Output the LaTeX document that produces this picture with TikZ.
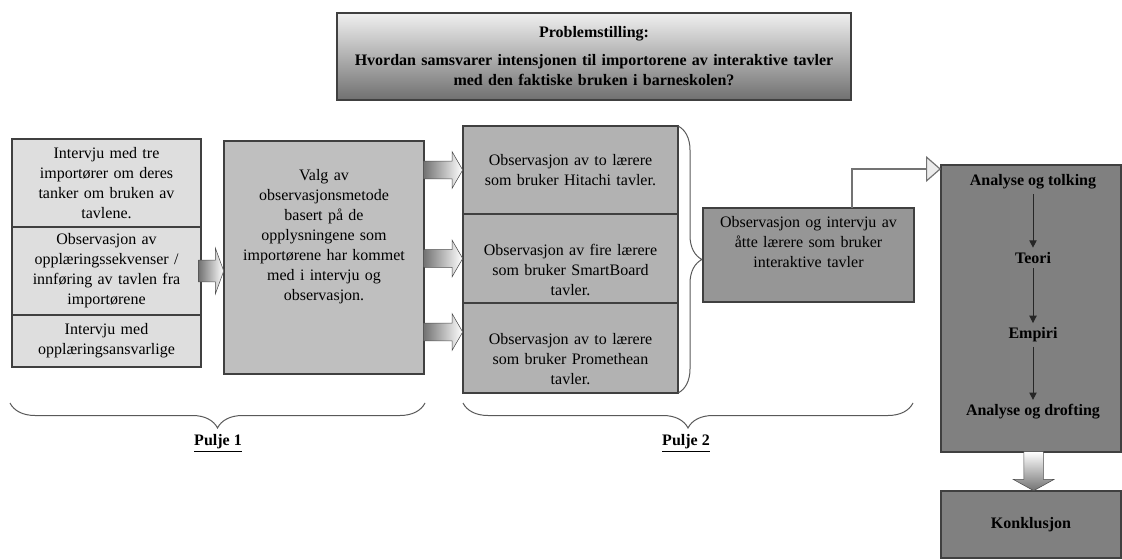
\documentclass[tikz,border=0pt]{standalone}
\usepackage{fontspec}
\setmainfont{Liberation Serif}
\usepackage{tikz}
\usetikzlibrary{shapes, shapes.arrows, arrows.meta, positioning, decorations.pathreplacing}

\newcommand{\bodyfont}{\fontsize{12}{15}\selectfont}

\definecolor{lysgraa}{gray}{0.87}
\definecolor{valggraa}{gray}{0.75}
\definecolor{midtgraa}{gray}{0.70}
\definecolor{samlegraa}{gray}{0.59}
\definecolor{morkgraa}{gray}{0.50}

\begin{document}
\begin{tikzpicture}[x=0.75pt, y=-0.75pt, font=\bodyfont]
    \tikzstyle{box}=[rectangle, draw=black!75, line width=0.8pt, outer sep=0pt, align=center, inner sep=2pt]
    \tikzstyle{leftbox}=[box, fill=lysgraa, minimum width=141.75pt, text width=137pt]
    \tikzstyle{midbox}=[box, fill=midtgraa, minimum width=161.25pt, text width=157pt]
    \tikzstyle{bigarrow}=[single arrow, draw=black!70, left color=black!55, right color=white, inner xsep=0pt, inner ysep=7.9pt, single arrow head extend=9pt, single arrow tip angle=140, minimum height=18.75pt]
    \tikzstyle{smallarrow}=[single arrow, draw=black!70, left color=black!55, right color=white, inner xsep=0pt, inner ysep=6.4pt, single arrow head extend=7.1pt, single arrow tip angle=120, minimum height=29.25pt]
    \tikzstyle{downarrow}=[single arrow, rotate=-90, draw=black!70, bottom color=black!55, top color=white, inner xsep=0pt, inner ysep=7.1pt, single arrow head extend=7.9pt, single arrow tip angle=122, minimum height=29.25pt]
    \tikzstyle{stage}=[font=\bodyfont\bfseries]
    \tikzstyle{flow}=[draw=black!85, line width=0.75pt, -{Triangle[length=5.5pt,width=5.5pt]}]
    \tikzstyle{link}=[draw=black!55, line width=0.9pt, -{Triangle[length=11.25pt,width=19.5pt,fill=black!8]}]
    \tikzstyle{curly}=[draw=black!65, line width=0.75pt, decorate]

    \useasboundingbox (0,0) rectangle (1122,560);

    % problemstilling
    \node [box, line width=1.1pt, top color=black!6, bottom color=black!56, minimum width=385.5pt, minimum height=65.25pt, text width=383pt, inner xsep=1pt, font=\bodyfont\bfseries] (problem) at (594,56.5)
      {Problemstilling:\\[6pt]
       Hvordan samsvarer intensjonen til importorene av interaktive tavler\\
       med den faktiske bruken i barneskolen?};

    % pulje 1
    \node [leftbox, minimum height=66pt] (intervju) at (106.5,183)
      {Intervju med tre\\importører om deres\\tanker om bruken av\\tavlene.};
    \node [leftbox, minimum height=66pt, below=0pt of intervju] (opplaering)
      {Observasjon av\\opplæringssekvenser /\\innføring av tavlen fra\\importørene};
    \node [leftbox, minimum height=39pt, below=0pt of opplaering] (ansvarlige)
      {Intervju med\\opplæringsansvarlige};
    \node [box, fill=valggraa, minimum width=150pt, minimum height=174.75pt, text width=146pt] (valg) at (324,257.5)
      {Valg av\\observasjonsmetode\\basert på de\\opplysningene som\\importørene har kommet\\med i intervju og\\observasjon.\\\strut\\\strut};
    \node [bigarrow, anchor=tip] (pil0) at (valg.west |- opplaering.east) {};

    % pulje 2
    \node [midbox, minimum height=66pt] (hitachi) at (570.5,170)
      {Observasjon av to lærere\\som bruker Hitachi tavler.};
    \node [midbox, minimum height=66.75pt, below=0pt of hitachi] (smartboard)
      {\strut\\Observasjon av fire lærere\\som bruker SmartBoard\\tavler.};
    \node [midbox, minimum height=67.5pt, below=0pt of smartboard] (promethean)
      {\strut\\Observasjon av to lærere\\som bruker Promethean\\tavler.};
    \node [smallarrow, anchor=tip] (pil1) at (hitachi.west) {};
    \node [smallarrow, anchor=tip] (pil2) at (smartboard.west) {};
    \node [smallarrow, anchor=tip] (pil3) at ([yshift=12pt]promethean.west) {};
    \draw [curly, decoration={brace, amplitude=18pt}] (hitachi.north east) -- (promethean.south east);

    \node [box, fill=samlegraa, minimum width=158.25pt, minimum height=70.5pt, text width=154pt] (samlet) at (808.5,255)
      {Observasjon og intervju av\\åtte lærere som bruker\\interaktive tavler\\\strut};

    % analyse
    \node [box, fill=morkgraa, minimum width=135pt, minimum height=215.25pt] (analyse) at (1031,308.5) {};
    \node [stage] (tolking) at (1033,182) {Analyse og tolking};
    \node [stage] (teori) at (1033,258) {Teori};
    \node [stage] (empiri) at (1033,335) {Empiri};
    \node [stage] (drofting) at (1033,412) {Analyse og drofting};
    \draw [flow] (tolking) -- (teori);
    \draw [flow] (teori) -- (empiri);
    \draw [flow] (empiri) -- (drofting);

    \coordinate (knekk) at (852,169);
    \draw [link] (samlet.north -| knekk) |- (analyse.west |- knekk);

    \node [box, fill=morkgraa, minimum width=135pt, minimum height=50.25pt, font=\bodyfont\bfseries] (konklusjon) at (1031,524.5) {Konklusjon};
    \node [downarrow, anchor=tip] (pil4) at ([xshift=2pt]konklusjon.north) {};

    % puljer
    \draw [curly, decoration={brace, mirror, amplitude=18.75pt}] (10,403) -- (425,403);
    \draw [curly, decoration={brace, mirror, amplitude=18.75pt}] (463,403) -- (913,403);
    \node [stage] (pulje1) at (218,443) {\underline{Pulje 1}};
    \node [stage] (pulje2) at (686,443) {\underline{Pulje 2}};
\end{tikzpicture}
\end{document}
